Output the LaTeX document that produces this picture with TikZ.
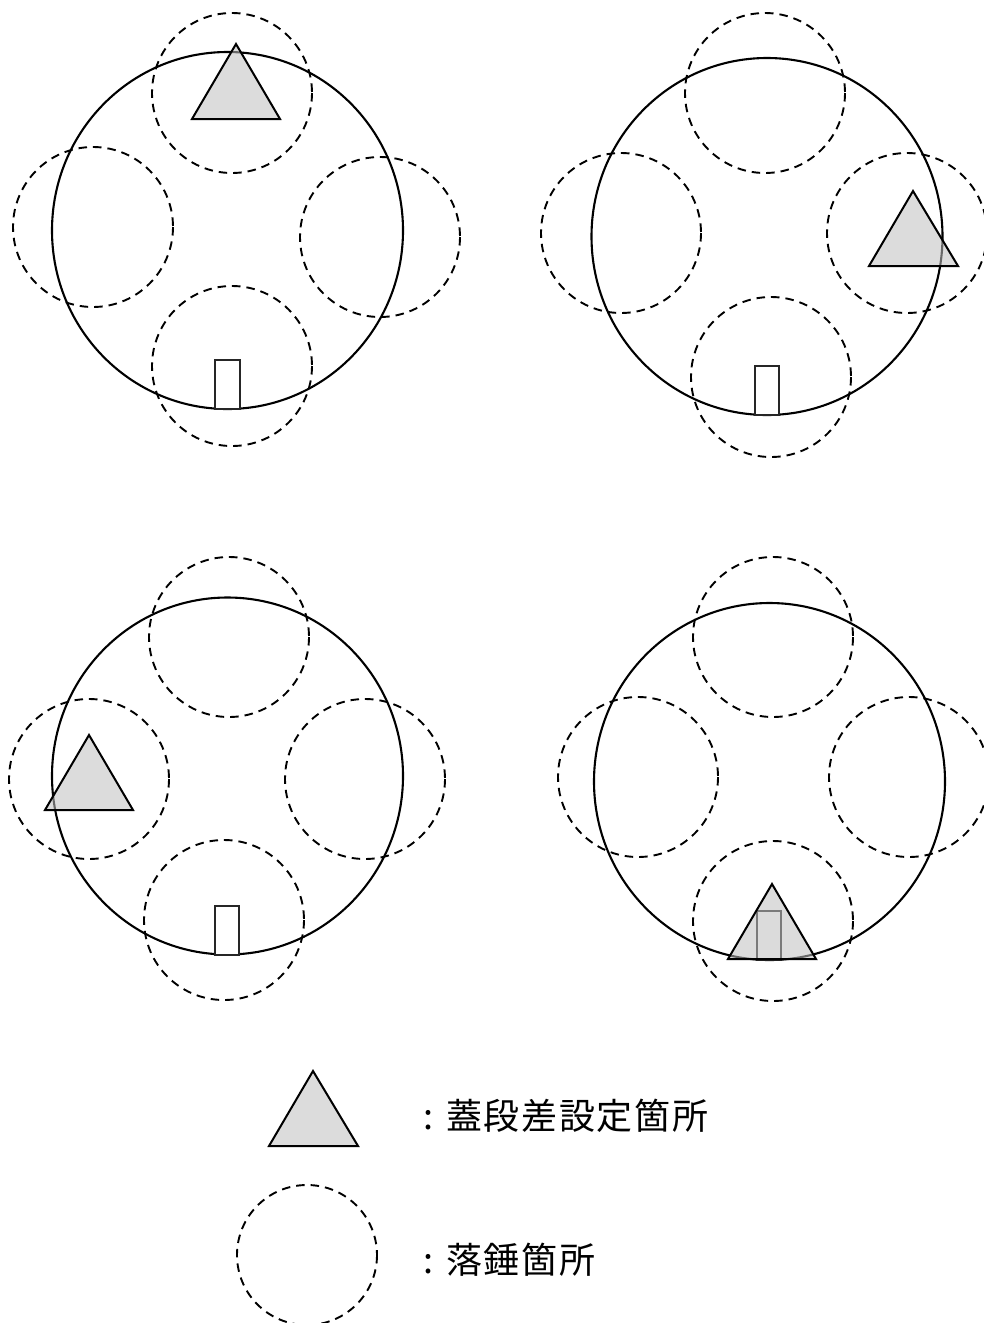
\documentclass[tikz,border=0pt]{standalone}
\usepackage{fontspec}
\newfontfamily\cjk[LetterSpace=4.6]{Noto Sans CJK JP}
\tikzset{
  big/.style={draw=black,line width=2.1pt},
  drop/.style={draw=black,line width=1.9pt,dash pattern=on 8.5pt off 6pt},
  mark tri/.style={draw=black,line width=2pt,line join=miter,fill=black!25,fill opacity=.55},
  notch/.style={draw=black!85,line width=1.2pt},
  lbl/.style={anchor=west,inner sep=0pt,font=\cjk\fontsize{36}{36}\selectfont}
}
\begin{document}
\begin{tikzpicture}[x=1pt,y=-1pt]
\useasboundingbox (0,0) rectangle (984,1323);
% panel 1
\draw[big] (227.5,230.5) ellipse[x radius=175.5,y radius=178.5];
\draw[notch,fill=white] (215,360) rectangle (240,409);
\foreach \p in {(232,93),(93,227),(380,237),(232,366)} \draw[drop] \p circle[radius=80];
\draw[mark tri] (236,44) -- (192,119) -- (280,119) -- cycle;
% panel 2
\draw[big] (767,236.5) ellipse[x radius=175.5,y radius=178.5];
\draw[notch,fill=white] (755,366) rectangle (779,415);
\foreach \p in {(765,93),(621,233),(907,233),(771,377)} \draw[drop] \p circle[radius=80];
\draw[mark tri] (913,191) -- (869,266) -- (958,266) -- cycle;
% panel 3
\draw[big] (227.5,776) ellipse[x radius=175.5,y radius=178.5];
\draw[notch,fill=white] (215,906) rectangle (239,955);
\foreach \p in {(229,637),(89,779),(365,779),(224,920)} \draw[drop] \p circle[radius=80];
\draw[mark tri] (89,735) -- (45,810) -- (133,810) -- cycle;
% panel 4
\draw[big] (769.5,781.5) ellipse[x radius=175.5,y radius=178.5];
\draw[notch,fill=white] (757,911) rectangle (781,960);
\foreach \p in {(773,637),(638,777),(909,777),(773,921)} \draw[drop] \p circle[radius=80];
\draw[mark tri] (772,884) -- (728,959) -- (816,959) -- cycle;
% legend
\draw[mark tri] (313,1071) -- (269,1146) -- (358,1146) -- cycle;
\draw[drop] (307,1255) circle[radius=70];
\node[lbl] (lega) at (423,1116) {:\hspace{13pt}蓋段差設定箇所};
\node[lbl] (legb) at (423,1260) {:\hspace{13pt}落錘箇所};
\end{tikzpicture}
\end{document}
